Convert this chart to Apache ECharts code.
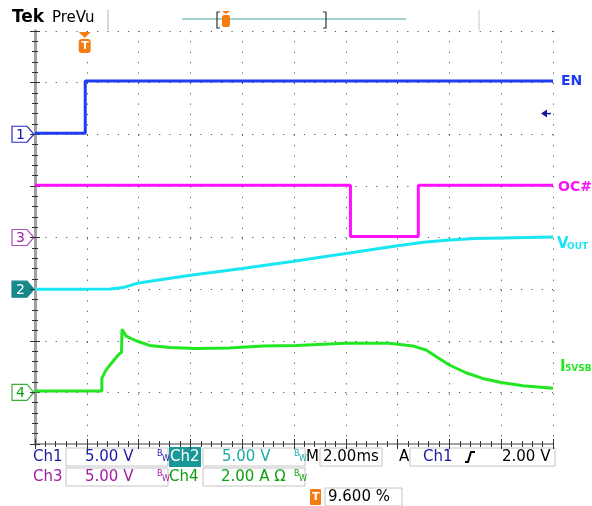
<!DOCTYPE html>
<html>
<head>
<meta charset="utf-8">
<script src="https://cdn.jsdelivr.net/npm/echarts@6/dist/echarts.min.js"></script>
<style>
  html, body { margin: 0; padding: 0; background: #fff; }
  #main { width: 592px; height: 506px; }
</style>
</head>
<body>
<div id="main"></div>
<script>
  // time base: 10 div x 2.00 ms, time in ms from left edge of screen
  const timeMax = 20;
  const timeDiv = 2;
  const trigPct = 9.6;

  // Ch1 EN (V)
  const enTime = [0, 1.94, 1.94, 20];
  const enVolt = [0.1, 0.1, 5.15, 5.15];
  // Ch3 OC# (V)
  const ocTime = [0, 12.18, 12.18, 14.8, 14.8, 20];
  const ocVolt = [5.05, 5.05, 0.1, 0.1, 5.05, 5.05];
  // Ch2 VOUT (V)
  const voutTime = [0, 2.0, 2.9, 3.4, 4.0, 6.0, 8.0, 10.0, 12.0, 14.0, 15.0, 16.0, 17.0, 18.0, 20.0];
  const voutVolt = [0, 0, 0.02, 0.15, 0.6, 1.35, 2.0, 2.7, 3.45, 4.2, 4.55, 4.75, 4.9, 4.95, 5.05];
  // Ch4 I5VSB (A)
  const iTime = [0, 2.58, 2.58, 2.74, 2.94, 3.14, 3.26, 3.34, 3.36, 3.52, 3.9, 4.42, 5.2, 6.22, 7.5, 8.8, 10.08, 12.0, 13.68, 14.58, 15.1, 15.5, 16.0, 16.64, 17.28, 18.0, 18.84, 20.0];
  const iAmp = [0.05, 0.05, 0.54, 0.86, 1.12, 1.36, 1.5, 1.55, 2.44, 2.18, 2.0, 1.82, 1.74, 1.70, 1.72, 1.80, 1.82, 1.90, 1.90, 1.80, 1.64, 1.38, 1.06, 0.76, 0.54, 0.38, 0.26, 0.16];

  // channel position (div) and scale (units/div)
  const chPos = { ch1: 6, ch2: 3, ch3: 4, ch4: 1 };
  const chScale = { ch1: 5, ch2: 5, ch3: 5, ch4: 2 };
  const trigLevel = 2.0; // V on Ch1

  const colBlue = '#1e3cf5', colMag = '#ff10ff', colCyan = '#18e6f2', colGreen = '#22e622';
  const font = 'DejaVu Sans';

  function toDiv(times, vals, ch) {
    return times.map((t, i) => [t, chPos[ch] + vals[i] / chScale[ch]]);
  }

  const myChart = echarts.init(document.getElementById('main'));

  const edgeAxis = (pos, isX, w, c) => ({
    type: 'value',
    position: pos,
    min: 0,
    max: isX ? timeMax : 8,
    interval: isX ? timeDiv : 1,
    axisLabel: { show: false },
    axisLine: { show: true, lineStyle: { color: c, width: w } },
    axisTick: { show: true, inside: true, length: 5, lineStyle: { color: '#333' } },
    minorTick: { show: true, splitNumber: 5, length: 3, lineStyle: { color: '#333' } },
    splitLine: { show: false }
  });

  const xBottom = edgeAxis('bottom', true, 2, '#a0a0a0');
  xBottom.splitLine = { show: true, lineStyle: { color: '#555', width: 1, type: [1.2, 9.16] } };
  const yLeft = edgeAxis('left', false, 3, '#8c8c8c');
  yLeft.splitLine = { show: true, lineStyle: { color: '#555', width: 1, type: [1.2, 9.14] } };

  const line = (name, data, color) => ({
    name: name,
    type: 'line',
    data: data,
    showSymbol: false,
    silent: true,
    lineStyle: { color: color, width: 3 },
    itemStyle: { color: color }
  });

  let option = {
    animation: false,
    backgroundColor: '#fff',
    grid: { left: 35, top: 31, width: 518, height: 413 },
    xAxis: [xBottom, edgeAxis('top', true, 2, '#a0a0a0')],
    yAxis: [yLeft, edgeAxis('right', false, 3, '#a0a0a0')],
    series: [
      line('EN', toDiv(enTime, enVolt, 'ch1'), colBlue),
      line('OC#', toDiv(ocTime, ocVolt, 'ch3'), colMag),
      line('VOUT', toDiv(voutTime, voutVolt, 'ch2'), colCyan),
      line('I5VSB', toDiv(iTime, iAmp, 'ch4'), colGreen)
    ]
  };
  myChart.setOption(option);

  // pixel positions from the axes
  const py = (d) => myChart.convertToPixel({ gridIndex: 0 }, [0, d])[1];
  const px = (t) => myChart.convertToPixel({ gridIndex: 0 }, [t, 0])[0];
  const trigX = px(timeMax * trigPct / 100);

  const g = [];
  const txt = (x, y, s, color, size, extra) => g.push(Object.assign({
    type: 'text', x: x, y: y,
    style: Object.assign({ text: s, fill: color, font: (size || 15) + 'px "' + font + '"', textVerticalAlign: 'middle' }, extra || {})
  }));
  const box = (x, y, w, h, fill, stroke) => g.push({
    type: 'rect', shape: { x: x, y: y, width: w, height: h },
    style: { fill: fill || '#fff', stroke: stroke || '#c4c4c4', lineWidth: 1 }
  });

  // channel ground markers
  const tag = (y, label, stroke, fill, tcol) => {
    g.push({
      type: 'polygon',
      shape: { points: [[12, y - 8], [27, y - 8], [34, y], [27, y + 8], [12, y + 8]] },
      style: { fill: fill, stroke: stroke, lineWidth: 1.2 }
    });
    txt(16, y + 1, label, tcol, 14, {});
  };
  tag(py(chPos.ch1), '1', '#2a2ad0', '#fff', '#1a1aa0');
  tag(py(chPos.ch3), '3', '#b050c0', '#fff', '#a020a0');
  tag(py(chPos.ch2), '2', '#168a8a', '#168a8a', '#fff');
  tag(py(chPos.ch4), '4', '#38b038', '#fff', '#10a010');

  // trigger level arrow
  const tly = py(chPos.ch1 + trigLevel / chScale.ch1);
  g.push({ type: 'polygon', shape: { points: [[541, tly], [547, tly - 4], [547, tly + 4]] }, style: { fill: '#1a1aa0' } });
  g.push({ type: 'line', shape: { x1: 546, y1: tly, x2: 551, y2: tly }, style: { stroke: '#1a1aa0', lineWidth: 1.5 } });

  // trigger position marker
  g.push({ type: 'polygon', shape: { points: [[trigX - 6, 32], [trigX + 6, 32], [trigX, 38]] }, style: { fill: '#f57c10' } });
  g.push({ type: 'rect', shape: { x: trigX - 6, y: 39, width: 12, height: 14, r: 3 }, style: { fill: '#f57c10' } });
  txt(trigX - 3.5, 46, 'T', '#fff', 11, { font: 'bold 11px "' + font + '"' });

  // right-side trace labels
  txt(561, py(7.03), 'EN', colBlue, 14, { font: 'bold 14px "' + font + '"' });
  txt(558, py(5.0) + 1, 'OC#', colMag, 14, { font: 'bold 14px "' + font + '"' });
  txt(557, 244, 'V', colCyan, 15, { font: 'bold 15px "' + font + '"' });
  txt(567, 247, 'OUT', colCyan, 9, { font: 'bold 9px "' + font + '"' });
  txt(560, 367, 'I', colGreen, 15, { font: 'bold 15px "' + font + '"' });
  txt(565, 369, '5VSB', colGreen, 9, { font: 'bold 9px "' + font + '"' });

  // top bar
  txt(12, 18, 'Tek', '#000', 17, { font: 'bold 17px "' + font + '"' });
  txt(52, 18, 'PreVu', '#000', 15, {});
  g.push({ type: 'line', shape: { x1: 108, y1: 10, x2: 108, y2: 30 }, style: { stroke: '#b0b0b0', lineWidth: 1 } });
  g.push({ type: 'line', shape: { x1: 479, y1: 10, x2: 479, y2: 30 }, style: { stroke: '#c8c8c8', lineWidth: 1 } });
  g.push({ type: 'line', shape: { x1: 182, y1: 19, x2: 406, y2: 19 }, style: { stroke: '#4aa6a6', lineWidth: 1 } });
  g.push({ type: 'polyline', shape: { points: [[220, 12], [217, 12], [217, 28], [220, 28]] }, style: { stroke: '#333', lineWidth: 1.2, fill: null } });
  g.push({ type: 'polyline', shape: { points: [[323, 12], [326, 12], [326, 28], [323, 28]] }, style: { stroke: '#333', lineWidth: 1.2, fill: null } });
  g.push({ type: 'polygon', shape: { points: [[222, 11], [230, 11], [226, 14]] }, style: { fill: '#f57c10' } });
  g.push({ type: 'rect', shape: { x: 222, y: 15, width: 8, height: 12, r: 2 }, style: { fill: '#f57c10' } });

  // status rows
  const bw = (x, y, c) => { txt(x, y - 3, 'B', c, 8, {}); txt(x + 5, y + 2, 'W', c, 8, {}); };
  const r1 = 457, r2 = 477, r3 = 497;
  txt(33, r1, 'Ch1', '#1a1aa0', 15);
  box(66, r1 - 9, 102, 18);
  txt(85, r1, '5.00 V', '#1a1aa0', 15);
  bw(157, r1, '#1a1aa0');
  g.push({ type: 'rect', shape: { x: 169, y: r1 - 10, width: 32, height: 20 }, style: { fill: '#1a9898' } });
  txt(170, r1, 'Ch2', '#fff', 15);
  box(203, r1 - 9, 102, 18);
  txt(222, r1, '5.00 V', '#20a8a8', 15);
  bw(294, r1, '#20a8a8');
  txt(306, r1, 'M', '#000', 15);
  box(320, r1 - 9, 62, 18);
  txt(323, r1, '2.00ms', '#000', 15);
  txt(399, r1, 'A', '#000', 15);
  box(410, r1 - 9, 145, 18);
  txt(423, r1, 'Ch1', '#1a1aa0', 15);
  g.push({ type: 'polyline', shape: { points: [[465, r1 + 5], [468, r1 + 5], [471, r1 - 5], [475, r1 - 5]] }, style: { stroke: '#000', lineWidth: 2, fill: null } });
  txt(502, r1, '2.00 V', '#000', 15);

  txt(33, r2, 'Ch3', '#a020a0', 15);
  box(66, r2 - 9, 102, 18);
  txt(85, r2, '5.00 V', '#a020a0', 15);
  bw(157, r2, '#a020a0');
  txt(169, r2, 'Ch4', '#10a010', 15);
  box(203, r2 - 9, 102, 18);
  txt(221, r2, '2.00 A Ω', '#10a010', 15);
  bw(294, r2, '#10a010');

  g.push({ type: 'rect', shape: { x: 310, y: r3 - 8, width: 11, height: 16, r: 1 }, style: { fill: '#f57c10' } });
  txt(312, r3, 'T', '#fff', 11, { font: 'bold 11px "' + font + '"' });
  box(325, r3 - 9, 77, 18);
  txt(328, r3, '9.600 %', '#000', 15);

  myChart.setOption({ graphic: g });
</script>
</body>
</html>
